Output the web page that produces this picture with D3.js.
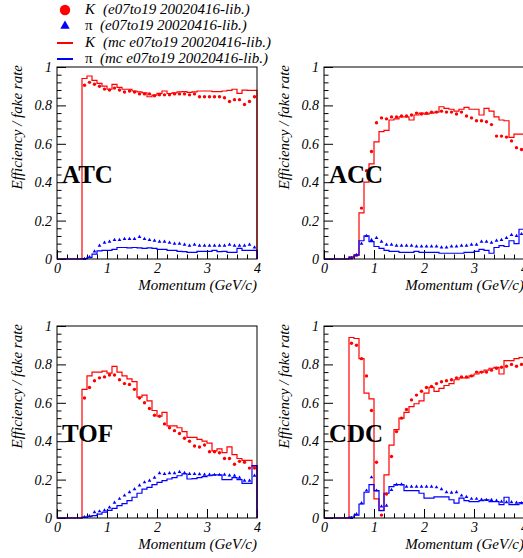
<!DOCTYPE html>
<html>
<head>
<meta charset="utf-8">
<script src="https://cdn.jsdelivr.net/npm/d3@7"></script>
<style>
  body { margin: 0; background: #fff; }
  svg { display: block; font-family: 'Liberation Serif', 'Times New Roman', serif; }
</style>
</head>
<body>
<script>
// momentum bins (low edge, GeV/c), width 0.1
const momentumLow = [0.0, 0.1, 0.2, 0.3, 0.4, 0.5, 0.6, 0.7, 0.8, 0.9,
  1.0, 1.1, 1.2, 1.3, 1.4, 1.5, 1.6, 1.7, 1.8, 1.9,
  2.0, 2.1, 2.2, 2.3, 2.4, 2.5, 2.6, 2.7, 2.8, 2.9,
  3.0, 3.1, 3.2, 3.3, 3.4, 3.5, 3.6, 3.7, 3.8, 3.9];
const binWidth = 0.1;
const momentumMax = 4;

const xTicks = [0, 1, 2, 3, 4];
const xMinorTicks = [0.2, 0.4, 0.6, 0.8, 1.2, 1.4, 1.6, 1.8, 2.2, 2.4, 2.6, 2.8, 3.2, 3.4, 3.6, 3.8];
const yTicks = [0, 0.2, 0.4, 0.6, 0.8, 1];
const yMinorTicks = [0.04, 0.08, 0.12, 0.16, 0.24, 0.28, 0.32, 0.36, 0.44, 0.48, 0.52, 0.56,
  0.64, 0.68, 0.72, 0.76, 0.84, 0.88, 0.92, 0.96];

const panelNames = ['ATC', 'ACC', 'TOF', 'CDC'];
const legendLabels = ['(e07to19 20020416-lib.)', '(e07to19 20020416-lib.)',
  '(mc e07to19 20020416-lib.)', '(mc e07to19 20020416-lib.)'];

// ATC
const atcKaonData = [null, null, null, null, null, 0.905, 0.92, 0.91, 0.90, 0.885,
  0.88, 0.89, 0.88, 0.87, 0.875, 0.87, 0.86, 0.86, 0.86, 0.85,
  0.855, 0.855, 0.855, 0.86, 0.86, 0.86, 0.855, 0.86, 0.845, 0.845,
  0.845, 0.845, 0.845, 0.84, 0.82, 0.83, 0.83, 0.805, 0.82, 0.845];
const atcPionData = [null, null, null, null, null, 0.0, 0.01, 0.04, 0.07, 0.085,
  0.09, 0.10, 0.10, 0.105, 0.105, 0.105, 0.115, 0.105, 0.10, 0.095,
  0.09, 0.09, 0.085, 0.08, 0.08, 0.075, 0.07, 0.075, 0.07, 0.07,
  0.07, 0.07, 0.07, 0.07, 0.075, 0.07, 0.07, 0.07, 0.075, 0.06];
const atcKaonMc = [0, 0, 0, 0, 0, 0.94, 0.953, 0.93, 0.915, 0.90,
  0.884, 0.91, 0.894, 0.884, 0.884, 0.875, 0.87, 0.865, 0.845, 0.854,
  0.863, 0.875, 0.862, 0.865, 0.87, 0.872, 0.868, 0.87, 0.875, 0.875,
  0.875, 0.872, 0.872, 0.875, 0.878, 0.884, 0.863, 0.88, 0.878, 0.878];
const atcPionMc = [0, 0, 0, 0, 0, 0.002, 0.008, 0.025, 0.042, 0.045,
  0.045, 0.05, 0.06, 0.06, 0.058, 0.06, 0.058, 0.055, 0.058, 0.055,
  0.05, 0.05, 0.045, 0.045, 0.04, 0.038, 0.035, 0.035, 0.04, 0.04,
  0.04, 0.045, 0.038, 0.04, 0.035, 0.035, 0.055, 0.045, 0.045, 0.045];

// ACC
const accKaonData = [null, null, null, null, null, 0.005, 0.02, 0.265, 0.46, 0.56,
  0.71, 0.735, 0.73, 0.74, 0.74, 0.745, 0.745, 0.75, 0.76, 0.755,
  0.76, 0.765, 0.765, 0.77, 0.765, 0.765, 0.755, 0.765, 0.745, 0.735,
  0.72, 0.72, 0.715, 0.70, 0.64, 0.64, 0.635, 0.615, 0.58, 0.57];
const accPionData = [null, null, null, null, null, 0.005, 0.02, 0.08, 0.12, 0.10,
  0.11, 0.09, 0.075, 0.075, 0.07, 0.07, 0.07, 0.07, 0.065, 0.065,
  0.065, 0.065, 0.065, 0.06, 0.06, 0.065, 0.065, 0.07, 0.07, 0.075,
  0.075, 0.09, 0.09, 0.085, 0.095, 0.10, 0.11, 0.125, 0.12, 0.13];
const accKaonMc = [0, 0, 0, 0, 0, 0.01, 0.02, 0.24, 0.40, 0.495,
  0.61, 0.663, 0.67, 0.724, 0.73, 0.74, 0.74, 0.724, 0.75, 0.76,
  0.755, 0.76, 0.765, 0.793, 0.785, 0.78, 0.77, 0.78, 0.79, 0.78,
  0.78, 0.75, 0.785, 0.77, 0.74, 0.724, 0.72, 0.633, 0.65, 0.65];
const accPionMc = [0, 0, 0, 0, 0, 0.01, 0.02, 0.095, 0.12, 0.09,
  0.065, 0.055, 0.045, 0.04, 0.04, 0.035, 0.035, 0.035, 0.04, 0.035,
  0.035, 0.035, 0.035, 0.03, 0.03, 0.03, 0.03, 0.03, 0.035, 0.035,
  0.04, 0.05, 0.045, 0.03, 0.06, 0.07, 0.065, 0.095, 0.08, 0.155];

// TOF
const tofKaonData = [null, null, null, null, null, 0.625, 0.68, 0.715, 0.73, 0.735,
  0.745, 0.745, 0.72, 0.70, 0.695, 0.67, 0.625, 0.60, 0.57, 0.535,
  0.53, 0.49, 0.47, 0.455, 0.44, 0.415, 0.40, 0.375, 0.37, 0.38,
  0.345, 0.345, 0.34, 0.31, 0.31, 0.28, 0.295, 0.29, 0.26, 0.26];
const tofPionData = [null, null, null, null, null, 0.005, 0.01, 0.03, 0.035, 0.04,
  0.055, 0.08, 0.10, 0.117, 0.134, 0.15, 0.17, 0.186, 0.195, 0.21,
  0.233, 0.23, 0.233, 0.233, 0.24, 0.235, 0.23, 0.23, 0.228, 0.226,
  0.226, 0.225, 0.225, 0.226, 0.222, 0.22, 0.21, 0.195, 0.195, 0.22];
const tofKaonMc = [0, 0, 0, 0, 0, 0.67, 0.74, 0.76, 0.76, 0.765,
  0.755, 0.79, 0.76, 0.74, 0.725, 0.71, 0.63, 0.64, 0.61, 0.56,
  0.53, 0.55, 0.48, 0.48, 0.47, 0.45, 0.42, 0.42, 0.41, 0.40,
  0.39, 0.35, 0.36, 0.34, 0.37, 0.33, 0.31, 0.30, 0.30, 0.27];
const tofPionMc = [0, 0, 0, 0, 0, 0.005, 0.008, 0.012, 0.02, 0.03,
  0.04, 0.05, 0.064, 0.075, 0.09, 0.108, 0.129, 0.15, 0.16, 0.174,
  0.186, 0.195, 0.203, 0.21, 0.22, 0.23, 0.203, 0.205, 0.21, 0.215,
  0.22, 0.225, 0.225, 0.2, 0.2, 0.21, 0.2, 0.18, 0.18, 0.273];

// CDC
const cdcKaonData = [null, null, null, null, null, 0.91, 0.90, 0.83, 0.74, 0.56,
  0.29, 0.015, 0.125, 0.32, 0.45, 0.52, 0.565, 0.615, 0.64, 0.66,
  0.68, 0.685, 0.70, 0.71, 0.715, 0.72, 0.73, 0.735, 0.735, 0.74,
  0.76, 0.76, 0.76, 0.77, 0.78, 0.785, 0.79, 0.80, 0.79, 0.80];
const cdcPionData = [null, null, null, null, null, 0.0, 0.02, 0.077, 0.143, 0.212,
  0.143, 0.06, 0.064, 0.146, 0.174, 0.175, 0.163, 0.163, 0.163, 0.163,
  0.163, 0.163, 0.16, 0.15, 0.134, 0.132, 0.134, 0.117, 0.11, 0.10,
  0.10, 0.095, 0.094, 0.094, 0.09, 0.085, 0.082, 0.082, 0.08, 0.077];
const cdcKaonMc = [0, 0, 0, 0, 0, 0.94, 0.935, 0.83, 0.65, 0.62,
  0.1, 0.04, 0.225, 0.38, 0.46, 0.52, 0.55, 0.58, 0.595, 0.61,
  0.65, 0.68, 0.66, 0.675, 0.69, 0.70, 0.72, 0.73, 0.73, 0.74,
  0.75, 0.76, 0.77, 0.78, 0.785, 0.75, 0.82, 0.82, 0.83, 0.835];
const cdcPionMc = [0, 0, 0, 0, 0, 0.005, 0.015, 0.073, 0.134, 0.174,
  0.143, 0.038, 0.129, 0.163, 0.174, 0.174, 0.143, 0.143, 0.143, 0.129,
  0.104, 0.104, 0.11, 0.11, 0.11, 0.095, 0.077, 0.104, 0.09, 0.085,
  0.085, 0.09, 0.095, 0.085, 0.085, 0.07, 0.108, 0.07, 0.07, 0.08];

const red = '#ff0000';
const blue = '#0000ff';

const width = 523;
const height = 558;
const svg = d3.select('body').append('svg').attr('width', width).attr('height', height);
svg.append('rect').attr('width', width).attr('height', height).attr('fill', '#fff');

// panel frames (ROOT canvas divided 2x2)
const pw = 200;
const ph = 192;
const panels = [
  { name: panelNames[0], left: 57, top: 67, kData: atcKaonData, piData: atcPionData, kMc: atcKaonMc, piMc: atcPionMc },
  { name: panelNames[1], left: 324, top: 67, kData: accKaonData, piData: accPionData, kMc: accKaonMc, piMc: accPionMc },
  { name: panelNames[2], left: 57, top: 326, kData: tofKaonData, piData: tofPionData, kMc: tofKaonMc, piMc: tofPionMc },
  { name: panelNames[3], left: 324, top: 326, kData: cdcKaonData, piData: cdcPionData, kMc: cdcKaonMc, piMc: cdcPionMc },
];

panels.forEach((p) => {
  const x = d3.scaleLinear().domain([0, momentumMax]).range([p.left, p.left + pw]);
  const y = d3.scaleLinear().domain([0, 1]).range([p.top + ph, p.top]);
  const g = svg.append('g');

  // axes, ticks pointing inward
  const yAxis = (sel, values, size, labels) =>
    sel
      .attr('transform', `translate(${p.left},0)`)
      .call(d3.axisLeft(y).tickValues(values).tickSize(-size).tickPadding(5)
        .tickFormat(labels ? (d) => String(d) : ''))
      .call((s) => s.select('.domain').remove());
  const xAxis = (sel, values, size, labels) =>
    sel
      .attr('transform', `translate(0,${p.top + ph})`)
      .call(d3.axisBottom(x).tickValues(values).tickSize(-size).tickPadding(4)
        .tickFormat(labels ? (d) => String(d) : ''))
      .call((s) => s.select('.domain').remove());

  g.append('g').call(yAxis, yMinorTicks, 4.5, false);
  g.append('g').call(yAxis, yTicks, 9, true);
  g.append('g').call(xAxis, xMinorTicks, 4.5, false);
  g.append('g').call(xAxis, xTicks, 9, true);

  g.selectAll('.tick line').attr('stroke', '#000').attr('stroke-width', 1);
  g.selectAll('.tick text')
    .attr('fill', '#000')
    .attr('font-family', "'Liberation Serif', serif")
    .attr('font-style', 'italic')
    .attr('font-size', '14px');

  // histograms (MC)
  const step = d3.line().curve(d3.curveStepAfter).x((d) => x(d[0])).y((d) => y(d[1]));
  const histPoints = (vals) =>
    momentumLow.map((m, i) => [m, vals[i]]).concat([[momentumMax, vals[vals.length - 1]], [momentumMax, 0]]);

  g.append('path')
    .datum(histPoints(p.kMc))
    .attr('fill', 'none')
    .attr('stroke', red)
    .attr('stroke-width', 1.2)
    .attr('d', step);

  g.append('path')
    .datum(histPoints(p.piMc))
    .attr('fill', 'none')
    .attr('stroke', blue)
    .attr('stroke-width', 1.2)
    .attr('d', step);

  // data points
  g.append('g')
    .selectAll('circle')
    .data(momentumLow.map((m, i) => ({ m: m + binWidth / 2, v: p.kData[i] })).filter((d) => d.v !== null))
    .enter()
    .append('circle')
    .attr('cx', (d) => x(d.m))
    .attr('cy', (d) => y(d.v))
    .attr('r', 1.7)
    .attr('fill', red);

  g.append('g')
    .selectAll('path')
    .data(momentumLow.map((m, i) => ({ m: m + binWidth / 2, v: p.piData[i] })).filter((d) => d.v !== null))
    .enter()
    .append('path')
    .attr('transform', (d) => `translate(${x(d.m)},${y(d.v)})`)
    .attr('d', d3.symbol(d3.symbolTriangle, 6))
    .attr('fill', blue);

  // frame
  g.append('rect')
    .attr('x', p.left)
    .attr('y', p.top)
    .attr('width', pw)
    .attr('height', ph)
    .attr('fill', 'none')
    .attr('stroke', '#000')
    .attr('stroke-width', 1);

  // titles
  g.append('text')
    .text('Momentum (GeV/c)')
    .attr('x', p.left + pw)
    .attr('y', p.top + ph + 31)
    .attr('text-anchor', 'end')
    .attr('font-style', 'italic')
    .attr('font-size', '15px');

  g.append('text')
    .text('Efficiency / fake rate')
    .attr('transform', `translate(${p.left - 35},${p.top - 2}) rotate(-90)`)
    .attr('text-anchor', 'end')
    .attr('font-style', 'italic')
    .attr('font-size', '15px');

  g.append('text')
    .text(p.name)
    .attr('x', p.left + 5)
    .attr('y', p.top + 116)
    .attr('font-weight', 'bold')
    .attr('font-size', '25px');
});

// legend
const legend = svg.append('g');
const rowY = [14, 30, 47, 63];
const legendSymbols = ['K', 'π', 'K', 'π'];

legend.append('circle').attr('cx', 65).attr('cy', rowY[0] - 4).attr('r', 5.2).attr('fill', red);
legend.append('path')
  .attr('transform', `translate(65,${rowY[1] - 4})`)
  .attr('d', d3.symbol(d3.symbolTriangle, 38))
  .attr('fill', blue);
legend.append('line').attr('x1', 57).attr('x2', 73).attr('y1', rowY[2] - 4).attr('y2', rowY[2] - 4)
  .attr('stroke', red).attr('stroke-width', 2);
legend.append('line').attr('x1', 57).attr('x2', 73).attr('y1', rowY[3] - 4).attr('y2', rowY[3] - 4)
  .attr('stroke', blue).attr('stroke-width', 2);

legendSymbols.forEach((s, i) => {
  legend.append('text')
    .text(s)
    .attr('x', 85)
    .attr('y', rowY[i])
    .attr('font-style', s === 'K' ? 'italic' : 'normal')
    .attr('font-size', '15px');
  legend.append('text')
    .text(legendLabels[i])
    .attr('x', s === 'K' ? 103 : 100)
    .attr('y', rowY[i])
    .attr('font-style', 'italic')
    .attr('font-size', '15px');
});
</script>
</body>
</html>
